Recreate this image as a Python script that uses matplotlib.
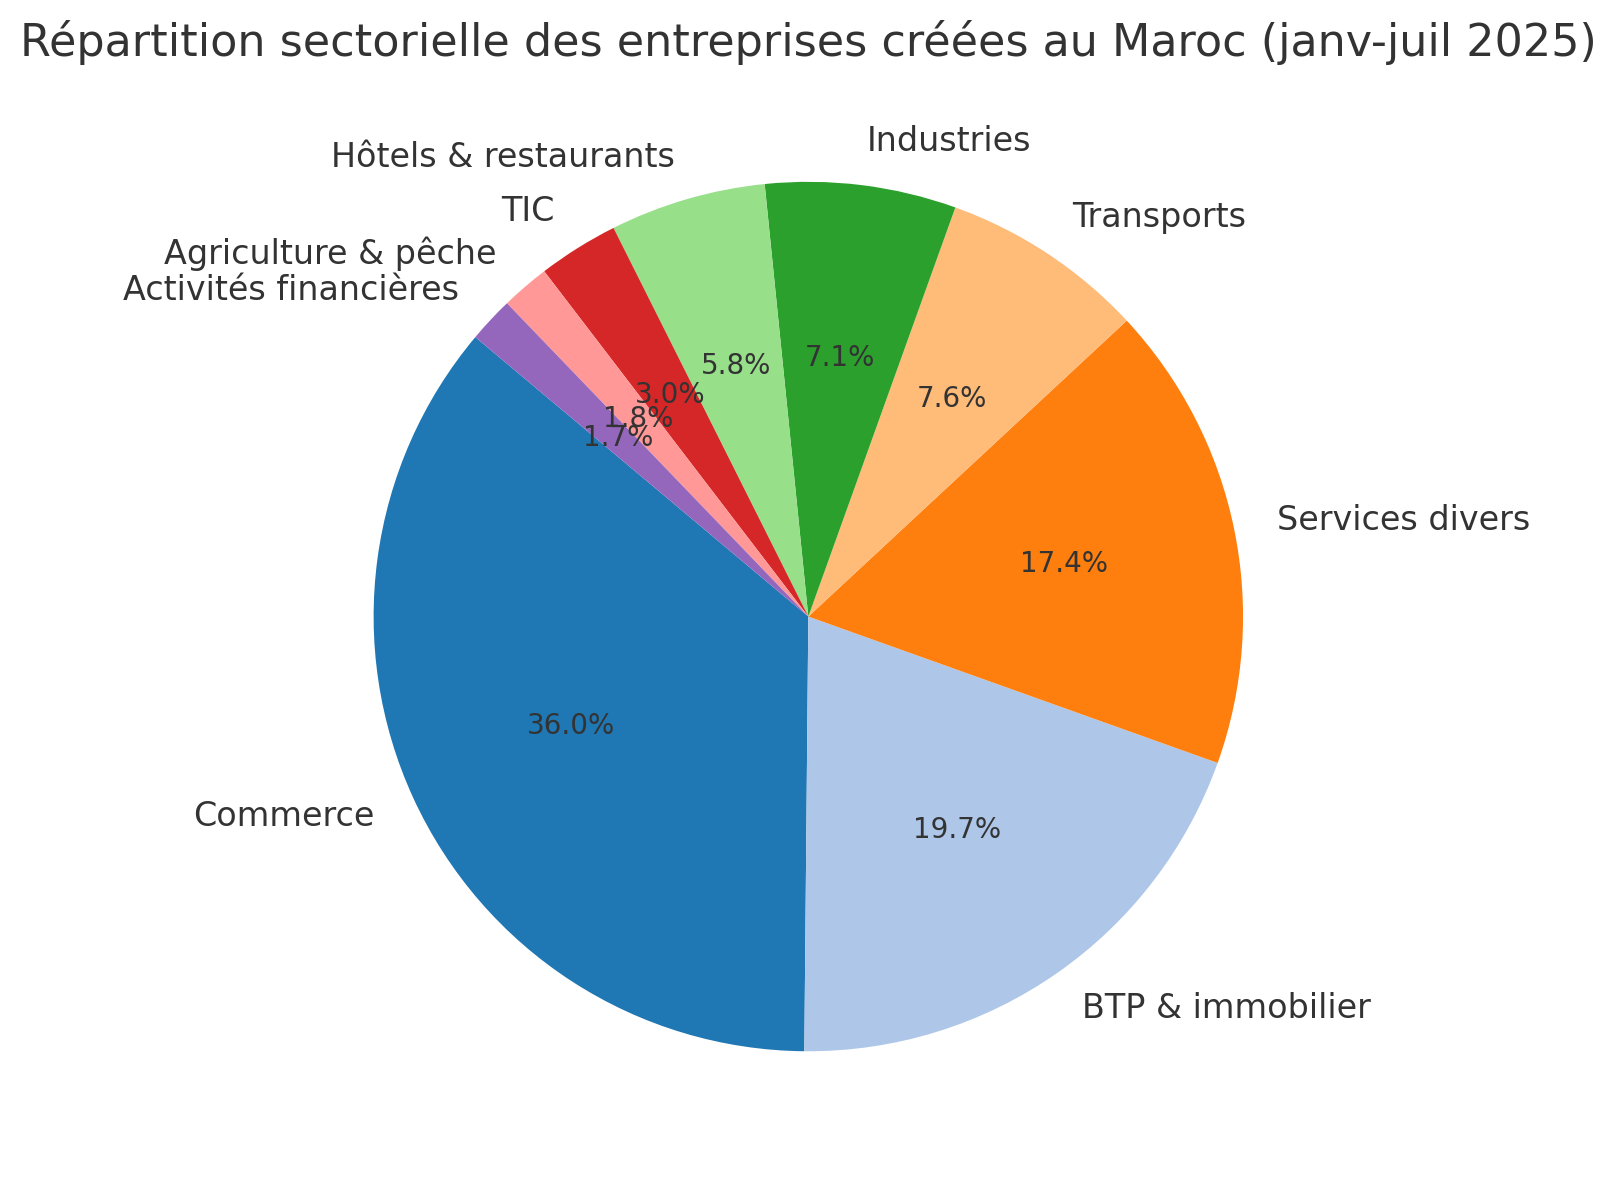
import matplotlib
matplotlib.use("Agg")
import matplotlib.pyplot as plt
import seaborn as sns

sns.set_theme(style="white")
plt.rcParams['font.family'] = ['DejaVu Sans']
plt.rcParams['text.color'] = '#333333'

secteurs = ["Commerce", "BTP & immobilier", "Services divers", "Transports",
            "Industries", "Hôtels & restaurants", "TIC", "Agriculture & pêche",
            "Activités financières"]
parts = [36.0, 19.7, 17.4, 7.6, 7.1, 5.8, 3.0, 1.8, 1.7]

couleurs = plt.get_cmap("tab20").colors[:len(parts)]

fig = plt.figure(figsize=(8.08, 5.9), dpi=200)
ax = fig.add_axes([0.1637, 0.017, 0.673, 0.921])
ax.pie(parts, labels=secteurs, colors=couleurs, autopct="%1.1f%%",
       startangle=140, textprops={"fontsize": 12, "color": "#333333"},
       wedgeprops={"linewidth": 0})
for t in ax.texts:
    if t.get_text().endswith("%"):
        t.set_fontsize(10)
ax.set_title("Répartition sectorielle des entreprises créées au Maroc (janv-juil 2025)",
             fontsize=16, color="#333333")
ax.set_aspect("equal")
fig.savefig("out.png", dpi=200)
